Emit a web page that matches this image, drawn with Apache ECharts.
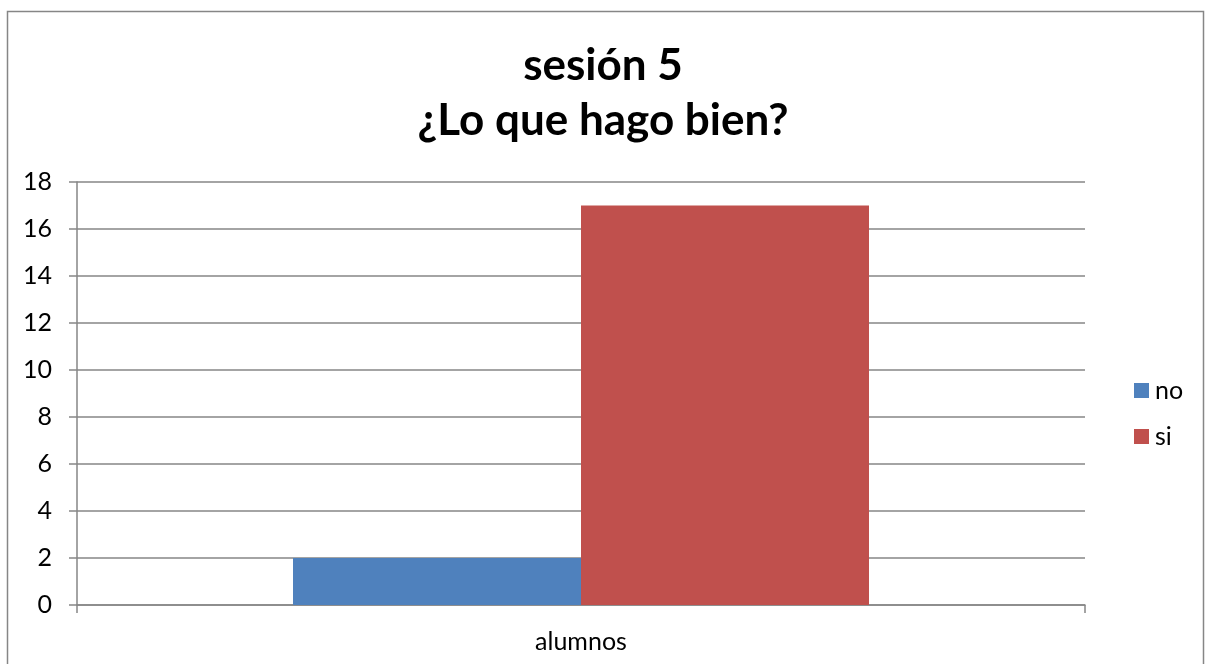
<!DOCTYPE html>
<html>
<head>
<meta charset="utf-8">
<script src="https://cdn.jsdelivr.net/npm/echarts@6/dist/echarts.min.js"></script>
<style>
  html, body { margin: 0; padding: 0; background: #fff; }
  #chart { width: 1206px; height: 664px; }
</style>
</head>
<body>
<div id="chart"></div>
<script>
const categories = ['alumnos']
const noValues = [2]
const siValues = [17]
const titleLines = ['sesión 5', '¿Lo que hago bien?']

const font = 'Lato, "Open Sans", sans-serif'
const gray = '#868686'

const chart = echarts.init(document.getElementById('chart'))
chart.setOption({
  animation: false,
  backgroundColor: '#fff',
  title: {
    text: titleLines.join('\n'),
    left: 'center',
    top: 33,
    textStyle: {
      fontFamily: font,
      fontSize: 44,
      fontWeight: 'bold',
      color: '#000',
      lineHeight: 55
    }
  },
  // chart frame (bottom edge runs off the picture)
  graphic: [
    {
      type: 'rect',
      shape: { x: 7.5, y: 11.5, width: 1196, height: 670 },
      style: { fill: 'none', stroke: gray, lineWidth: 1.5 },
      silent: true
    }
  ],
  legend: {
    orient: 'vertical',
    left: 1129,
    top: 373,
    itemWidth: 15,
    itemHeight: 15,
    itemGap: 21,
    icon: 'rect',
    textStyle: { fontFamily: font, fontSize: 25, color: '#000', padding: [0, 0, 0, 1] },
    data: ['no', 'si']
  },
  grid: {
    left: 77,
    right: 121,
    top: 182,
    bottom: 59,
    containLabel: false
  },
  xAxis: {
    type: 'category',
    data: categories,
    axisLine: { lineStyle: { color: gray, width: 1.5 } },
    axisTick: { show: true, length: 8, lineStyle: { color: gray, width: 1.5 } },
    axisLabel: { fontFamily: font, fontSize: 25, color: '#000', margin: 24 }
  },
  yAxis: {
    type: 'value',
    min: 0,
    max: 18,
    interval: 2,
    axisLine: { show: true, lineStyle: { color: gray, width: 1.5 } },
    axisTick: { show: true, length: 8, lineStyle: { color: gray, width: 1.5 } },
    axisLabel: { fontFamily: font, fontSize: 25, color: '#000', margin: 25 },
    splitLine: { show: true, lineStyle: { color: gray, width: 1.5 } }
  },
  series: [
    {
      name: 'no',
      type: 'bar',
      data: noValues,
      barWidth: 288,
      barGap: '0%',
      itemStyle: { color: '#4f81bd' }
    },
    {
      name: 'si',
      type: 'bar',
      data: siValues,
      barWidth: 288,
      barGap: '0%',
      itemStyle: { color: '#c0504d' }
    }
  ]
})
</script>
</body>
</html>
